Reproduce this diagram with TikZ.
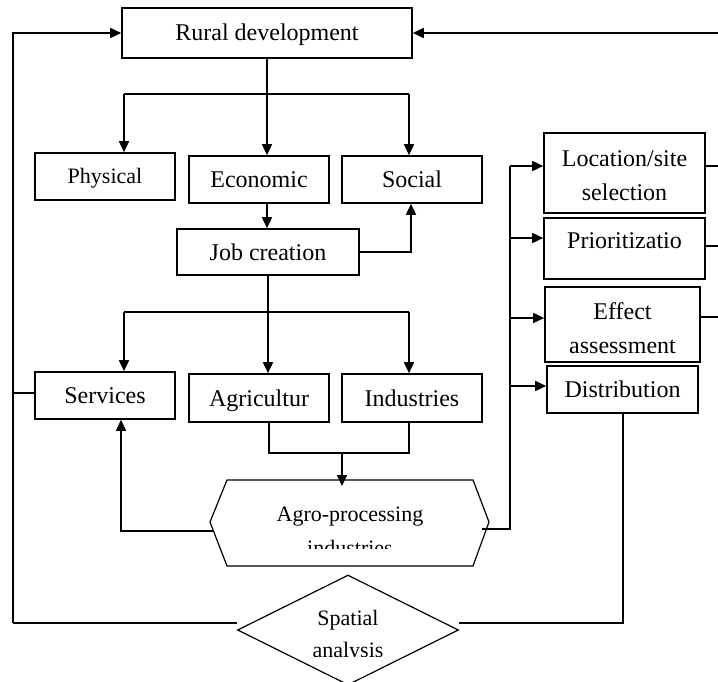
\documentclass[tikz,border=0pt]{standalone}
\usepackage{fontspec}
\setmainfont{Liberation Serif}
\usetikzlibrary{arrows.meta,shapes.geometric}
\begin{document}
\begin{tikzpicture}[x=1pt,y=-1pt,
  box/.style={draw,line width=1.6pt,inner sep=0pt,align=center,font=\fontsize{24}{34}\selectfont},
  one/.style={text height=19pt,text depth=3pt},
  smallbox/.style={box,font=\fontsize{22}{32}\selectfont,text height=17pt,text depth=4pt},
  plain/.style={inner sep=0pt,align=center,font=\fontsize{24}{34}\selectfont},
  txt/.style={inner sep=0pt,font=\fontsize{22}{32}\selectfont},
  ln/.style={line width=1.6pt},
  arr/.style={line width=1.6pt,-{Triangle[length=11pt,width=10pt]}},
  thin/.style={line width=1.2pt}]
\useasboundingbox (0,0) rectangle (718,682);

% boxes
\node[box,one,minimum width=290pt,minimum height=50pt] (rural) at (267,33) {Rural development};
\node[smallbox,minimum width=140pt,minimum height=47pt] (phys) at (105,176.5) {Physical};
\node[box,one,minimum width=140pt,minimum height=47pt] (econ) at (259,179.5) {Economic};
\node[box,one,minimum width=140pt,minimum height=47pt] (soc) at (412,179.5) {Social};
\node[box,one,minimum width=182pt,minimum height=46pt] (job) at (268,252) {Job creation};
\node[box,one,minimum width=140pt,minimum height=47pt] (serv) at (105,395.5) {Services};
\node[box,one,minimum width=140pt,minimum height=48pt] (agri) at (259,398) {Agricultur};
\node[box,one,minimum width=140pt,minimum height=48pt] (ind) at (412,398) {Industries};
\node[box,minimum width=161pt,minimum height=80pt] (loc) at (624.5,173) {};
\node[plain] (loct) at (624.5,175.5) {Location/site\\selection};
\node[box,minimum width=161pt,minimum height=61pt] (prio) at (624.5,248.5) {};
\node[plain] (priot) at (624.5,241) {Prioritizatio};
\node[box,minimum width=155pt,minimum height=75pt] (eff) at (622.5,324.5) {};
\node[plain] (efft) at (622.5,328) {Effect\\assessment};
\node[box,one,minimum width=151pt,minimum height=47pt] (dist) at (622.5,389.5) {Distribution};

% hexagon
\coordinate (hx1) at (227,480);
\coordinate (hx2) at (473,480);
\coordinate (hx3) at (489,522);
\coordinate (hx4) at (473,566);
\coordinate (hx5) at (227,566);
\coordinate (hx6) at (210,522);
\draw[thin] (hx1) -- (hx2) -- (hx3) -- (hx4) -- (hx5) -- (hx6) -- cycle;
\begin{scope}
  \clip (200,470) rectangle (500,548);
  \node[txt,anchor=base] (agro1) at (350,521) {Agro-processing};
  \node[txt,anchor=base] (agro2) at (350,555) {industries};
\end{scope}

% diamond
\node[draw,thin,shape=diamond,inner sep=0pt,minimum width=221pt,minimum height=110pt] (dia) at (348,630) {};
\begin{scope}
  \clip (240,570) rectangle (460,656);
  \node[txt,anchor=base] (sp1) at (348,625) {Spatial};
  \node[txt,anchor=base] (sp2) at (348,657) {analysis};
\end{scope}

% top branch
\coordinate (h1) at (267,94);
\coordinate (hL) at (124,94);
\coordinate (hR) at (409,94);
\draw[ln] (rural.south) -- (h1);
\draw[ln] (hL) -- (hR);
\draw[arr] (hL) -- (hL |- phys.north);
\draw[arr] (h1) -- (h1 |- econ.north);
\draw[arr] (hR) -- (hR |- soc.north);

% economic -> job
\draw[arr] (econ.south -| h1) -- (h1 |- job.north);
% job -> social
\coordinate (js) at (411,252);
\draw[arr] (job.east) -- (js) -- (js |- soc.south);

% second branch
\coordinate (h2) at (268,312);
\coordinate (hL2) at (124,312);
\coordinate (hR2) at (409,312);
\draw[ln] (job.south) -- (h2);
\draw[ln] (hL2) -- (hR2);
\draw[arr] (hL2) -- (hL2 |- serv.north);
\draw[arr] (h2) -- (h2 |- agri.north);
\draw[arr] (hR2) -- (hR2 |- ind.north);

% agri / ind -> hexagon
\coordinate (ai) at (269,453);
\coordinate (ii) at (409,453);
\coordinate (am) at (342,453);
\draw[ln] (agri.south -| ai) -- (ai) -- (ii) -- (ind.south -| ii);
\draw[arr] (am) -- ([yshift=-6pt]am |- hx1);

% hexagon -> services
\coordinate (hexL) at (213.5,531);
\coordinate (sv) at (121,531);
\draw[arr] (hexL) -- (sv) -- (sv |- serv.south);

% hexagon -> right column
\coordinate (hexR) at (482,529);
\coordinate (rv) at (510,529);
\coordinate (b1) at (510,166);
\coordinate (b2) at (510,238);
\coordinate (b3) at (510,318);
\coordinate (b4) at (510,386);
\draw[ln] (hexR) -- (rv) -- (b1);
\draw[arr] (b1) -- (b1 -| loc.west);
\draw[arr] (b2) -- (b2 -| prio.west);
\draw[arr] (b3) -- (b3 -| eff.west);
\draw[arr] (b4) -- (b4 -| dist.west);

% right outgoing lines
\coordinate (r1) at (718,166);
\coordinate (r2) at (718,246);
\coordinate (r3) at (718,317);
\coordinate (rt) at (718,33);
\draw[ln] (r1 -| loc.east) -- (r1);
\draw[ln] (r2 -| prio.east) -- (r2);
\draw[ln] (r3 -| eff.east) -- (r3);
\draw[arr] (rt) -- (rural.east);

% left loop
\coordinate (lt) at (13,33);
\coordinate (lb) at (13,623);
\coordinate (ls) at (13,393);
\draw[arr] (lb) -- (lt) -- (rural.west);
\draw[ln] (ls) -- (ls -| serv.west);
\draw[ln] (lb) -- (dia.west |- lb);

% distribution -> diamond
\coordinate (dv) at (623,623);
\draw[ln] (dist.south -| dv) -- (dv) -- (dia.east |- dv);
\end{tikzpicture}
\end{document}
